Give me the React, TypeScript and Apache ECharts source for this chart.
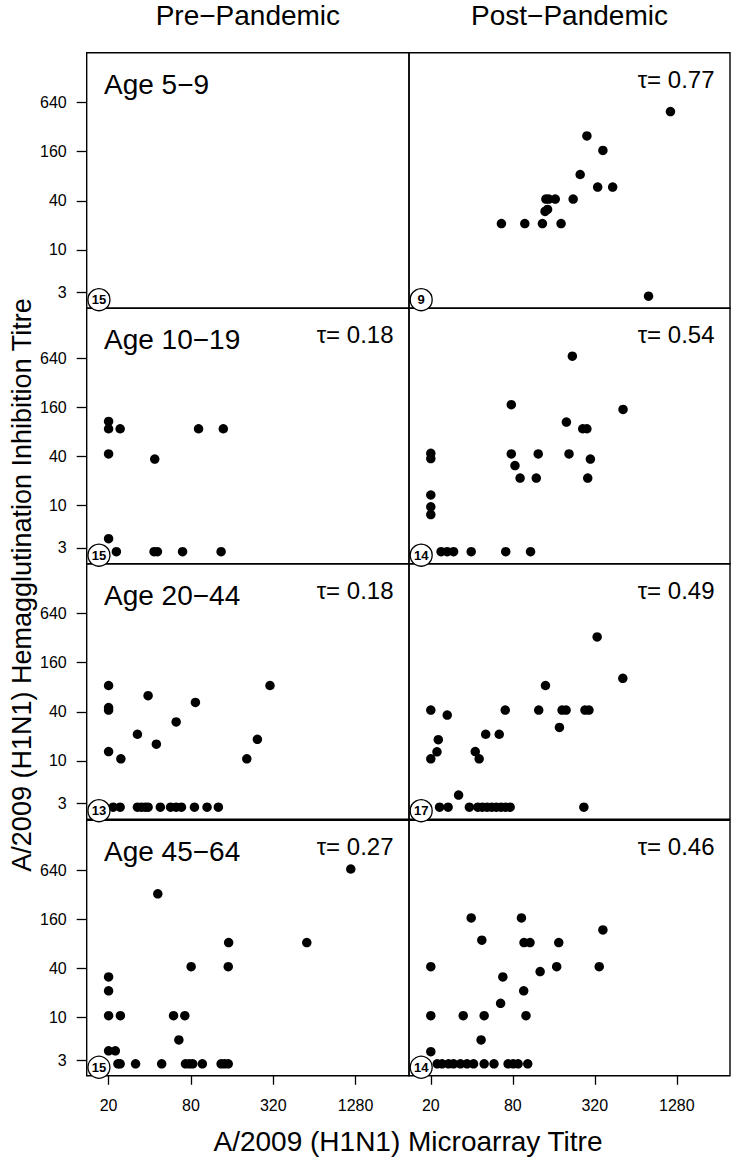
import React, { useEffect, useRef } from "react";
import * as echarts from "echarts";

// ---- text content ----
const columnTitles = ["Pre\u2212Pandemic", "Post\u2212Pandemic"];
const ageGroups = ["Age 5\u22129", "Age 10\u221219", "Age 20\u221244", "Age 45\u221264"];
const tauLabels: (string | null)[][] = [
  [null, "0.77"],
  ["0.18", "0.54"],
  ["0.18", "0.49"],
  ["0.27", "0.46"],
];
const circleCounts = [
  [15, 9],
  [15, 14],
  [13, 17],
  [15, 14],
];
const xTickValues = [20, 80, 320, 1280];
const yTickValues = [3, 10, 40, 160, 640];
const countMarker: [number, number] = [17, 2.45];
const xTitle = "A/2009 (H1N1) Microarray Titre";
const yTitle = "A/2009 (H1N1) Hemagglutination Inhibition Titre";

// ---- data: [microarray titre, HAI titre] ----
const pre5to9: [number, number][] = [];
const post5to9: [number, number][] = [
  [1150, 496], [280, 250], [367, 166], [250, 84], [336, 59], [433, 59],
  [140, 42], [147, 42], [164, 42], [222, 42], [138, 29.6], [144, 31.3],
  [66, 21], [98, 21], [132, 21], [181, 21], [794, 2.7],
];
const pre10to19: [number, number][] = [
  [20, 107], [20, 87], [24.3, 87], [91, 87], [138, 87], [20, 42.7], [43.5, 37],
  [20, 3.9], [22.8, 2.7], [43, 2.7], [45.5, 2.7], [69.5, 2.7], [133, 2.7],
];
const post10to19: [number, number][] = [
  [219, 675], [78, 172], [516, 150], [198, 105], [261, 87], [280, 87],
  [20, 43.5], [20, 37.5], [78, 42.7], [123, 42.7], [207, 42.7], [297, 37],
  [83, 30.8], [90.5, 21.6], [119, 21.6], [284, 21.6], [20, 13.4], [20, 9.6],
  [20, 7.7], [23.8, 2.7], [26.4, 2.7], [29.4, 2.7], [39.6, 2.7], [71, 2.7], [108, 2.7],
];
const pre20to44: [number, number][] = [
  [20, 84], [38.9, 63], [303, 84], [86.3, 52], [20, 45], [20, 42], [62.4, 30],
  [32.5, 21.2], [245, 18.4], [44.7, 16], [20, 13], [24.6, 10.6], [205, 10.6],
  [21.6, 2.7], [24.3, 2.7], [32.5, 2.7], [34.8, 2.7], [37.1, 2.7], [38.9, 2.7],
  [47.8, 2.7], [56.8, 2.7], [62.4, 2.7], [68.2, 2.7], [84.9, 2.7], [105, 2.7], [127, 2.7],
];
const post20to44: [number, number][] = [
  [333, 331], [514, 103], [139, 84], [20, 42], [26.4, 36.5], [70.4, 42], [124, 42],
  [184, 42], [197, 42], [271, 42], [290, 42], [176, 25.7], [50.6, 21.2], [63.6, 21.2],
  [22.7, 18.2], [22.2, 12.9], [20, 10.6], [42.4, 13], [45.3, 10.6], [32, 3.8],
  [23.2, 2.7], [26.8, 2.7], [38.4, 2.7], [44.3, 2.7], [47.8, 2.7], [51.8, 2.7],
  [56, 2.7], [60.5, 2.7], [65.5, 2.7], [70.8, 2.7], [76.5, 2.7], [266, 2.7],
];
const pre45to64: [number, number][] = [
  [1181, 662], [45.8, 328], [151, 83], [563, 83], [80.3, 42], [150, 42],
  [20, 31.4], [20, 21.2], [20, 10.5], [24.4, 10.5], [59.7, 10.5], [72.2, 10.5],
  [65.3, 5.3], [20, 3.9], [22.4, 3.9],
  [23.4, 2.7], [24.3, 2.7], [31.5, 2.7], [48.9, 2.7], [73, 2.7], [78, 2.7],
  [82.5, 2.7], [97, 2.7], [133, 2.7], [141, 2.7], [150, 2.7],
];
const post45to64: [number, number][] = [
  [39.6, 166], [92.6, 166], [367, 118.5], [47.4, 88.8], [96.7, 83], [107, 83],
  [174, 83], [20, 42], [168, 42], [345, 42], [127, 36.5], [67.6, 31.4], [96.2, 21.2],
  [65.1, 14.9], [20, 10.5], [34.6, 10.5], [49.3, 10.5], [100, 10.5], [46.8, 5.3], [20, 3.8],
  [22.3, 2.7], [24.2, 2.7], [27, 2.7], [29.4, 2.7], [33, 2.7], [36.9, 2.7], [41.2, 2.7],
  [49.3, 2.7], [58.2, 2.7], [73.9, 2.7], [80.5, 2.7], [87.5, 2.7], [103, 2.7],
];

const panelData = [
  [pre5to9, post5to9],
  [pre10to19, post10to19],
  [pre20to44, post20to44],
  [pre45to64, post45to64],
];

// ---- layout ----
const W = 736;
const H = 1162;
const colLeft = [86.7, 409];
const colWidth = [322.3, 321];
const rowTop = [52.7, 308.2, 563.7, 820.3];
const rowHeight = 255.5;
const X_MIN = 3.79;
const X_MAX = 11.62;
const Y_MIN = 0.945;
const Y_MAX = 11.355;
const FONT = "'Liberation Sans', Arial, Helvetica, sans-serif";

const l2 = (v: number) => Math.log2(v);

function buildOption() {
  const grid: any[] = [];
  const xAxis: any[] = [];
  const yAxis: any[] = [];
  const series: any[] = [];
  const graphic: any[] = [];
  const xTicks = xTickValues.map(l2);
  const yTicks = yTickValues.map(l2);

  for (let r = 0; r < 4; r++) {
    for (let c = 0; c < 2; c++) {
      const idx = r * 2 + c;
      grid.push({
        left: colLeft[c],
        top: rowTop[r],
        width: colWidth[c],
        height: rowHeight,
        show: true,
        borderColor: "#000",
        borderWidth: 1.4,
        backgroundColor: "transparent",
        containLabel: false,
      });
      const bottomRow = r === 3;
      const leftCol = c === 0;
      xAxis.push({
        gridIndex: idx,
        type: "value",
        min: X_MIN,
        max: X_MAX,
        axisLine: { show: false },
        splitLine: { show: false },
        axisTick: {
          show: bottomRow,
          customValues: xTicks,
          length: 9,
          lineStyle: { color: "#000", width: 1.3 },
        },
        axisLabel: {
          show: bottomRow,
          customValues: xTicks,
          margin: 22,
          fontSize: 16,
          fontFamily: FONT,
          color: "#000",
          formatter: (v: number) => String(Math.round(Math.pow(2, v))),
        },
      });
      yAxis.push({
        gridIndex: idx,
        type: "value",
        min: Y_MIN,
        max: Y_MAX,
        axisLine: { show: false },
        splitLine: { show: false },
        axisTick: {
          show: leftCol,
          customValues: yTicks,
          length: 10,
          lineStyle: { color: "#000", width: 1.3 },
        },
        axisLabel: {
          show: leftCol,
          customValues: yTicks,
          margin: 20,
          fontSize: 16,
          fontFamily: FONT,
          color: "#000",
          formatter: (v: number) => String(Math.round(Math.pow(2, v))),
        },
      });
      series.push({
        type: "scatter",
        xAxisIndex: idx,
        yAxisIndex: idx,
        symbol: "circle",
        symbolSize: 9.5,
        itemStyle: { color: "#000", opacity: 1 },
        emphasis: { disabled: true },
        data: panelData[r][c].map(([x, y]) => [l2(x), l2(y)]),
        z: 2,
      });
      series.push({
        type: "scatter",
        xAxisIndex: idx,
        yAxisIndex: idx,
        symbol: "circle",
        symbolSize: 22,
        clip: false,
        itemStyle: { color: "#fff", borderColor: "#000", borderWidth: 1.3, opacity: 1 },
        emphasis: { disabled: true },
        label: {
          show: true,
          position: "inside",
          formatter: String(circleCounts[r][c]),
          fontSize: 13,
          fontWeight: "bold",
          fontFamily: FONT,
          color: "#000",
        },
        data: [[l2(countMarker[0]), l2(countMarker[1])]],
        z: 3,
      });
      const tau = tauLabels[r][c];
      if (tau) {
        graphic.push({
          type: "text",
          x: colLeft[c] + colWidth[c] - 15.5,
          y: rowTop[r] + 26.5,
          style: {
            text: "\u03c4= " + tau,
            fontSize: 24,
            fontFamily: FONT,
            fill: "#000",
            align: "right",
            verticalAlign: "middle",
            textAlign: "right",
            textVerticalAlign: "middle",
          },
        });
      }
    }
    graphic.push({
      type: "text",
      x: 104,
      y: rowTop[r] + 31.5,
      style: {
        text: ageGroups[r],
        fontSize: 28,
        fontFamily: FONT,
        fill: "#000",
        align: "left",
        verticalAlign: "middle",
        textAlign: "left",
        textVerticalAlign: "middle",
      },
    });
  }

  for (let c = 0; c < 2; c++) {
    graphic.push({
      type: "text",
      x: colLeft[c] + colWidth[c] / 2,
      y: 15,
      style: {
        text: columnTitles[c],
        fontSize: 28,
        fontFamily: FONT,
        fill: "#000",
        align: "center",
        verticalAlign: "middle",
        textAlign: "center",
        textVerticalAlign: "middle",
      },
    });
  }
  graphic.push({
    type: "text",
    x: 408,
    y: 1141,
    style: {
      text: xTitle,
      fontSize: 28,
      fontFamily: FONT,
      fill: "#000",
      align: "center",
      verticalAlign: "middle",
      textAlign: "center",
      textVerticalAlign: "middle",
    },
  });
  graphic.push({
    type: "text",
    x: 22,
    y: 585,
    rotation: Math.PI / 2,
    style: {
      text: yTitle,
      fontSize: 27,
      fontFamily: FONT,
      fill: "#000",
      align: "center",
      verticalAlign: "middle",
      textAlign: "center",
      textVerticalAlign: "middle",
    },
  });

  return {
    animation: false,
    backgroundColor: "#fff",
    grid,
    xAxis,
    yAxis,
    series,
    graphic,
  };
}

export default function App() {
  const ref = useRef<HTMLDivElement>(null);
  useEffect(() => {
    document.body.style.margin = "0";
    if (!ref.current) return;
    const chart = echarts.init(ref.current, null, { renderer: "svg" });
    chart.setOption(buildOption() as any);
    return () => chart.dispose();
  }, []);
  return (
    <div
      ref={ref}
      style={{ position: "absolute", left: 0, top: 0, width: W, height: H, background: "#fff" }}
    />
  );
}
